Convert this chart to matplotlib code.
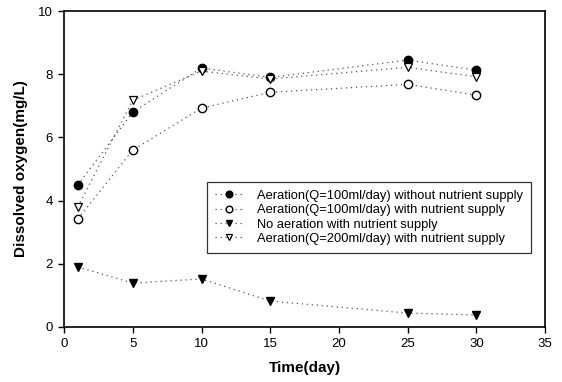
import matplotlib
matplotlib.use("Agg")
import matplotlib.pyplot as plt

plt.rcParams['font.family'] = ['Liberation Sans', 'DejaVu Sans']

days = [1, 5, 10, 15, 25, 30]
aer100_no_nutr = [4.5, 6.8, 8.2, 7.9, 8.45, 8.13]
aer100_nutr = [3.42, 5.6, 6.93, 7.43, 7.68, 7.34]
no_aer_nutr = [1.9, 1.39, 1.52, 0.82, 0.44, 0.38]
aer200_nutr = [3.8, 7.18, 8.1, 7.85, 8.22, 7.92]

labels = ['Aeration(Q=100ml/day) without nutrient supply',
          'Aeration(Q=100ml/day) with nutrient supply',
          'No aeration with nutrient supply',
          'Aeration(Q=200ml/day) with nutrient supply']

fig = plt.figure(figsize=(5.62, 3.82), dpi=100)
ax = fig.add_axes([0.114, 0.144, 0.856, 0.827])

dots = dict(linestyle=(0, (1, 3)), linewidth=0.9, color='#555555')
ax.plot(days, aer100_no_nutr, marker='o', markersize=6, markerfacecolor='black',
        markeredgecolor='black', label=labels[0], **dots)
ax.plot(days, aer100_nutr, marker='o', markersize=6, markerfacecolor='white',
        markeredgecolor='black', markeredgewidth=1.0, label=labels[1], **dots)
ax.plot(days, no_aer_nutr, marker='v', markersize=6, markerfacecolor='black',
        markeredgecolor='black', label=labels[2], **dots)
ax.plot(days, aer200_nutr, marker='v', markersize=6, markerfacecolor='white',
        markeredgecolor='black', markeredgewidth=0.9, label=labels[3], **dots)

ax.set_xlim(0, 35)
ax.set_ylim(0, 10)
ax.set_xticks(range(0, 36, 5))
ax.set_yticks(range(0, 11, 2))
ax.tick_params(direction='out', length=4, width=1, labelsize=9.5, colors='black', pad=4)
for s in ax.spines.values():
    s.set_linewidth(1.2)

ax.set_xlabel('Time(day)', fontsize=11, fontweight='bold', labelpad=8)
ax.set_ylabel('Dissolved oxygen(mg/L)', fontsize=11, fontweight='bold', labelpad=7)

leg = ax.legend(loc='upper left', bbox_to_anchor=(0.297, 0.459), fontsize=9.3,
                frameon=True, fancybox=False, edgecolor='black', handlelength=2.2,
                handletextpad=1.1, borderpad=0.6, labelspacing=0.18, markerscale=0.8,
                borderaxespad=0)
leg.get_frame().set_linewidth(0.9)

fig.savefig('out.png', dpi=100)
